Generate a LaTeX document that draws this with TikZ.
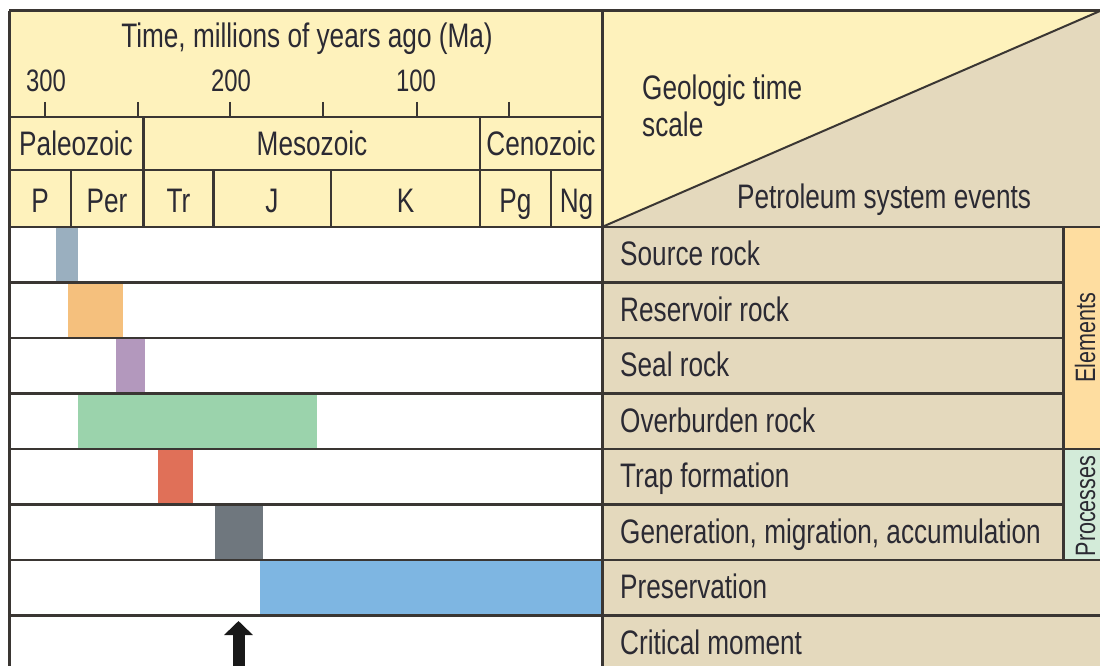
\documentclass[tikz,border=0pt]{standalone}
\usepackage{fontspec}
\newfontfamily\cf[FakeStretch=0.77]{Liberation Sans}
\usetikzlibrary{arrows.meta}
\definecolor{hdr}{HTML}{FEF2BC}
\definecolor{beige}{HTML}{E4D9BD}
\definecolor{elem}{HTML}{FEDDA0}
\definecolor{proc}{HTML}{D3EBD9}
\definecolor{ink}{HTML}{2B2A33}
\definecolor{ln}{HTML}{3A3633}
\definecolor{csource}{HTML}{9AAFBF}
\definecolor{creserv}{HTML}{F5C07D}
\definecolor{cseal}{HTML}{B398BD}
\definecolor{cover}{HTML}{9BD3AC}
\definecolor{ctrap}{HTML}{E07058}
\definecolor{cgen}{HTML}{6F777E}
\definecolor{cpres}{HTML}{7EB6E2}
\tikzset{
  txt/.style={font=\cf\fontsize{34}{36}\selectfont, text=ink, inner sep=0pt},
  small/.style={font=\cf\fontsize{31}{33}\selectfont, text=ink, inner sep=0pt},
  side/.style={font=\cf\fontsize{28}{30}\selectfont, text=ink, inner sep=0pt, rotate=90, anchor=base},
  lbl/.style={txt, anchor=base west},
  ctr/.style={txt, anchor=base},
  grid/.style={draw=ln, line width=2.5pt},
  tick/.style={draw=ln, line width=2pt},
}
\begin{document}
\begin{tikzpicture}[x=1pt,y=-1pt]
\useasboundingbox (0,0) rectangle (1100,666);
% backgrounds
\fill[white] (0,0) rectangle (1100,666);
\fill[hdr] (9,11) rectangle (602,227);
\fill[beige] (602,11) rectangle (1100,666);
\fill[hdr] (602,11) -- (1100,11) -- (602,227) -- cycle;
\fill[elem] (1063,227) rectangle (1100,449);
\fill[proc] (1063,449) rectangle (1100,560);
% bars
\fill[csource] (56,227) rectangle (78,282.5);
\fill[creserv] (68,282.5) rectangle (123,338);
\fill[cseal] (116,338) rectangle (145,393.5);
\fill[cover] (78,393.5) rectangle (317,449);
\fill[ctrap] (158,449) rectangle (193,504.5);
\fill[cgen] (215,504.5) rectangle (263,560);
\fill[cpres] (260,560) rectangle (602,615.5);
% frame lines
\draw[grid, line width=3pt] (9,11) -- (1100,11);
\draw[grid, line width=3pt] (9,11) -- (9,666);
\draw[grid, line width=3pt] (602,11) -- (602,666);
\draw[grid] (9,117) -- (602,117);
\draw[grid] (9,170) -- (602,170);
\draw[grid] (9,227) -- (1100,227);
\draw[grid] (143.5,117) -- (143.5,227);
\draw[grid] (480,117) -- (480,227);
\foreach \x in {71,213.5,331,551} \draw[grid] (\x,170) -- (\x,227);
\foreach \x in {45,138,230,323,417,509} \draw[tick] (\x,102) -- (\x,117);
\draw[draw=ln, line width=2pt] (602,227) -- (1100,11);
\foreach \y in {282.5,338,393.5,504.5} \draw[grid] (9,\y) -- (1063,\y);
\foreach \y in {449,560,615.5} \draw[grid] (9,\y) -- (1100,\y);
\draw[grid, line width=3pt] (1063,227) -- (1063,560);
% header texts
\node[ctr] (title) at (307,48) {Time, millions of years ago (Ma)};
\node[small, anchor=base] (t300) at (46,92) {300};
\node[small, anchor=base] (t200) at (231,92) {200};
\node[small, anchor=base] (t100) at (416,92) {100};
\node[ctr] (paleo) at (76,155) {Paleozoic};
\node[ctr] (meso) at (312,155) {Mesozoic};
\node[ctr] (ceno) at (541,155) {Cenozoic};
\node[ctr] (pP) at (40,212) {P};
\node[ctr] (pPer) at (107,212) {Per};
\node[ctr] (pTr) at (178.5,212) {Tr};
\node[ctr] (pJ) at (272,212) {J};
\node[ctr] (pK) at (405.5,212) {K};
\node[ctr] (pPg) at (515.5,212) {Pg};
\node[ctr] (pNg) at (576.5,212) {Ng};
\node[lbl] (geo1) at (642,100) {Geologic time};
\node[lbl] (geo2) at (642,136) {scale};
\node[ctr] (pse) at (884,208) {Petroleum system events};
% event labels
\node[lbl] (ev1) at (620,265.5) {Source rock};
\node[lbl] (ev2) at (620,321) {Reservoir rock};
\node[lbl] (ev3) at (620,376.5) {Seal rock};
\node[lbl] (ev4) at (620,432) {Overburden rock};
\node[lbl] (ev5) at (620,487.5) {Trap formation};
\node[lbl] (ev6) at (620,543) {Generation, migration, accumulation};
\node[lbl] (ev7) at (620,598.5) {Preservation};
\node[lbl] (ev8) at (620,654) {Critical moment};
\node[side] (elements) at (1095,338) {Elements};
\node[side] (processes) at (1095,506) {Processes};
% critical moment arrow
\coordinate (cmA) at (238.5,668);
\coordinate (cmB) at (238.5,621);
\draw[draw=black!90, line width=12pt, -{Triangle[width=28pt,length=14pt]}] (cmA) -- (cmB);
\end{tikzpicture}
\end{document}
